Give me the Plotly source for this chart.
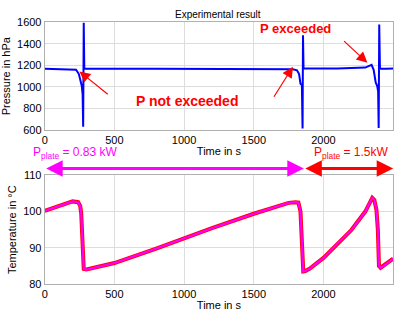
import plotly.graph_objects as go

# Pressure trace (time s, pressure hPa)
p_time = [0, 100, 200, 225, 245, 258, 266, 272, 276, 280, 284, 290, 400, 800, 1200, 1600, 1780, 1810, 1825, 1835, 1845, 1850, 1853, 1857, 1862, 1900, 2100, 2300, 2330, 2345, 2360, 2375, 2385, 2392, 2396, 2400, 2405, 2412, 2450, 2500]
p_val = [1170, 1168, 1165, 1160, 1120, 1030, 1010, 930, 630, 1600, 1170, 1172, 1172, 1172, 1172, 1172, 1165, 1155, 1120, 1030, 1020, 615, 1480, 1170, 1172, 1172, 1172, 1180, 1200, 1205, 1160, 1040, 1010, 960, 620, 1580, 1170, 1172, 1170, 1172]

# Temperature trace (time s, temperature °C)
t_time = [0, 100, 200, 240, 255, 262, 270, 280, 300, 500, 800, 1000, 1200, 1500, 1750, 1800, 1820, 1835, 1845, 1855, 1870, 1900, 2000, 2100, 2200, 2300, 2350, 2365, 2380, 2390, 2398, 2410, 2450, 2500]
t_val = [100.2, 101.5, 102.8, 102.6, 101.5, 99.5, 93, 84.2, 84, 85.8, 89.8, 92.7, 95.4, 99.4, 102.4, 102.6, 102.5, 100, 92, 83.5, 83.6, 84.2, 87.2, 91.2, 94.9, 100.0, 103.8, 103.2, 100.5, 95, 85, 84.5, 85.5, 87]

x_ticks = [0, 500, 1000, 1500, 2000, 2500]
p_ticks = [600, 800, 1000, 1200, 1400, 1600]
t_ticks = [80, 90, 100, 110]

FONT = "Liberation Sans, Arial, sans-serif"

fig = go.Figure()
fig.add_trace(go.Scatter(x=p_time, y=p_val, mode="lines", line=dict(color="#0000ff", width=2), xaxis="x", yaxis="y"))
fig.add_trace(go.Scatter(x=t_time, y=t_val, mode="lines", line=dict(color="#ff0000", width=4), xaxis="x2", yaxis="y2"))
fig.add_trace(go.Scatter(x=t_time, y=t_val, mode="lines", line=dict(color="#ff00ff", width=2.2), xaxis="x2", yaxis="y2"))

axis_common = dict(showgrid=True, gridcolor="#dddddd", gridwidth=1, zeroline=False,
                   showline=True, linecolor="#b0b0b0", linewidth=1, mirror=True,
                   ticks="", tickfont=dict(family=FONT, size=11, color="#000000"))

fig.update_layout(
    width=404, height=316, autosize=False,
    margin=dict(l=0, r=0, t=0, b=0),
    paper_bgcolor="white", plot_bgcolor="white",
    showlegend=False,
    font=dict(family=FONT, color="#000000"),
    xaxis=dict(domain=[0.104, 0.973], range=[0, 2500], tickvals=x_ticks, anchor="y",
               title=dict(text="Time in s", font=dict(size=11), standoff=2), **axis_common),
    yaxis=dict(domain=[0.592, 0.946], range=[600, 1600], tickvals=p_ticks, anchor="x",
               title=dict(text="Pressure in hPa", font=dict(size=11), standoff=4), **axis_common),
    xaxis2=dict(domain=[0.104, 0.973], range=[0, 2500], tickvals=x_ticks, anchor="y2",
                title=dict(text="Time in s", font=dict(size=11), standoff=2), **axis_common),
    yaxis2=dict(domain=[0.0854, 0.443], range=[80, 110], tickvals=t_ticks, anchor="x2",
                title=dict(text="Temperature in °C", font=dict(size=11), standoff=4), **axis_common),
)

anns = [
    dict(text="Experimental result", x=217/404, y=1.0, xref="paper", yref="paper", xanchor="center", yanchor="top",
         showarrow=False, font=dict(size=10, color="#000000"), yshift=-1),
    dict(text="<b>P exceeded</b>", x=1802, y=1546, xref="x", yref="y", showarrow=False,
         font=dict(size=13, color="#ff0000")),
    dict(text="<b>P not exceeded</b>", x=1018, y=870, xref="x", yref="y", showarrow=False,
         font=dict(size=14, color="#ff0000")),
    dict(text="P<sub>plate</sub> = 0.83 kW", x=28/404, y=1-153/316, xref="paper", yref="paper",
         xanchor="left", yanchor="middle", showarrow=False, font=dict(size=12, color="#ff00ff")),
    dict(text="P<sub>plate</sub> = 1.5kW", x=311/404, y=1-153/316, xref="paper", yref="paper",
         xanchor="left", yanchor="middle", showarrow=False, font=dict(size=12, color="#ff0000")),
]
# Pointer arrows on pressure plot
for (tx, ty, hx, hy) in [(463, 921, 249, 1145), (1638, 895, 1781, 1189), (2137, 1439, 2315, 1225)]:
    anns.append(dict(x=hx, y=hy, ax=tx, ay=ty, xref="x", yref="y", axref="x", ayref="y",
                     text="", showarrow=True, arrowhead=2, arrowsize=1.8, arrowwidth=1.2, arrowcolor="#ff0000"))
# Power range arrows
yarr = 1 - 169/316
anns.append(dict(x=1859, y=yarr, ax=0, ay=0, xref="x", yref="paper", axref="x", ayref="pixel",
                 text="", showarrow=True, arrowhead=2, arrowside="end+start", arrowsize=1.1, arrowwidth=3, arrowcolor="#ff00ff"))
anns.append(dict(x=2500, y=yarr, ax=1859, ay=0, xref="x", yref="paper", axref="x", ayref="pixel",
                 text="", showarrow=True, arrowhead=2, arrowside="end+start", arrowsize=1.1, arrowwidth=3, arrowcolor="#ff0000"))
fig.update_layout(annotations=anns)

fig.write_html("out.html", config={"displayModeBar": False},
               post_script="document.body.style.margin='0px';document.body.style.overflow='hidden';")
